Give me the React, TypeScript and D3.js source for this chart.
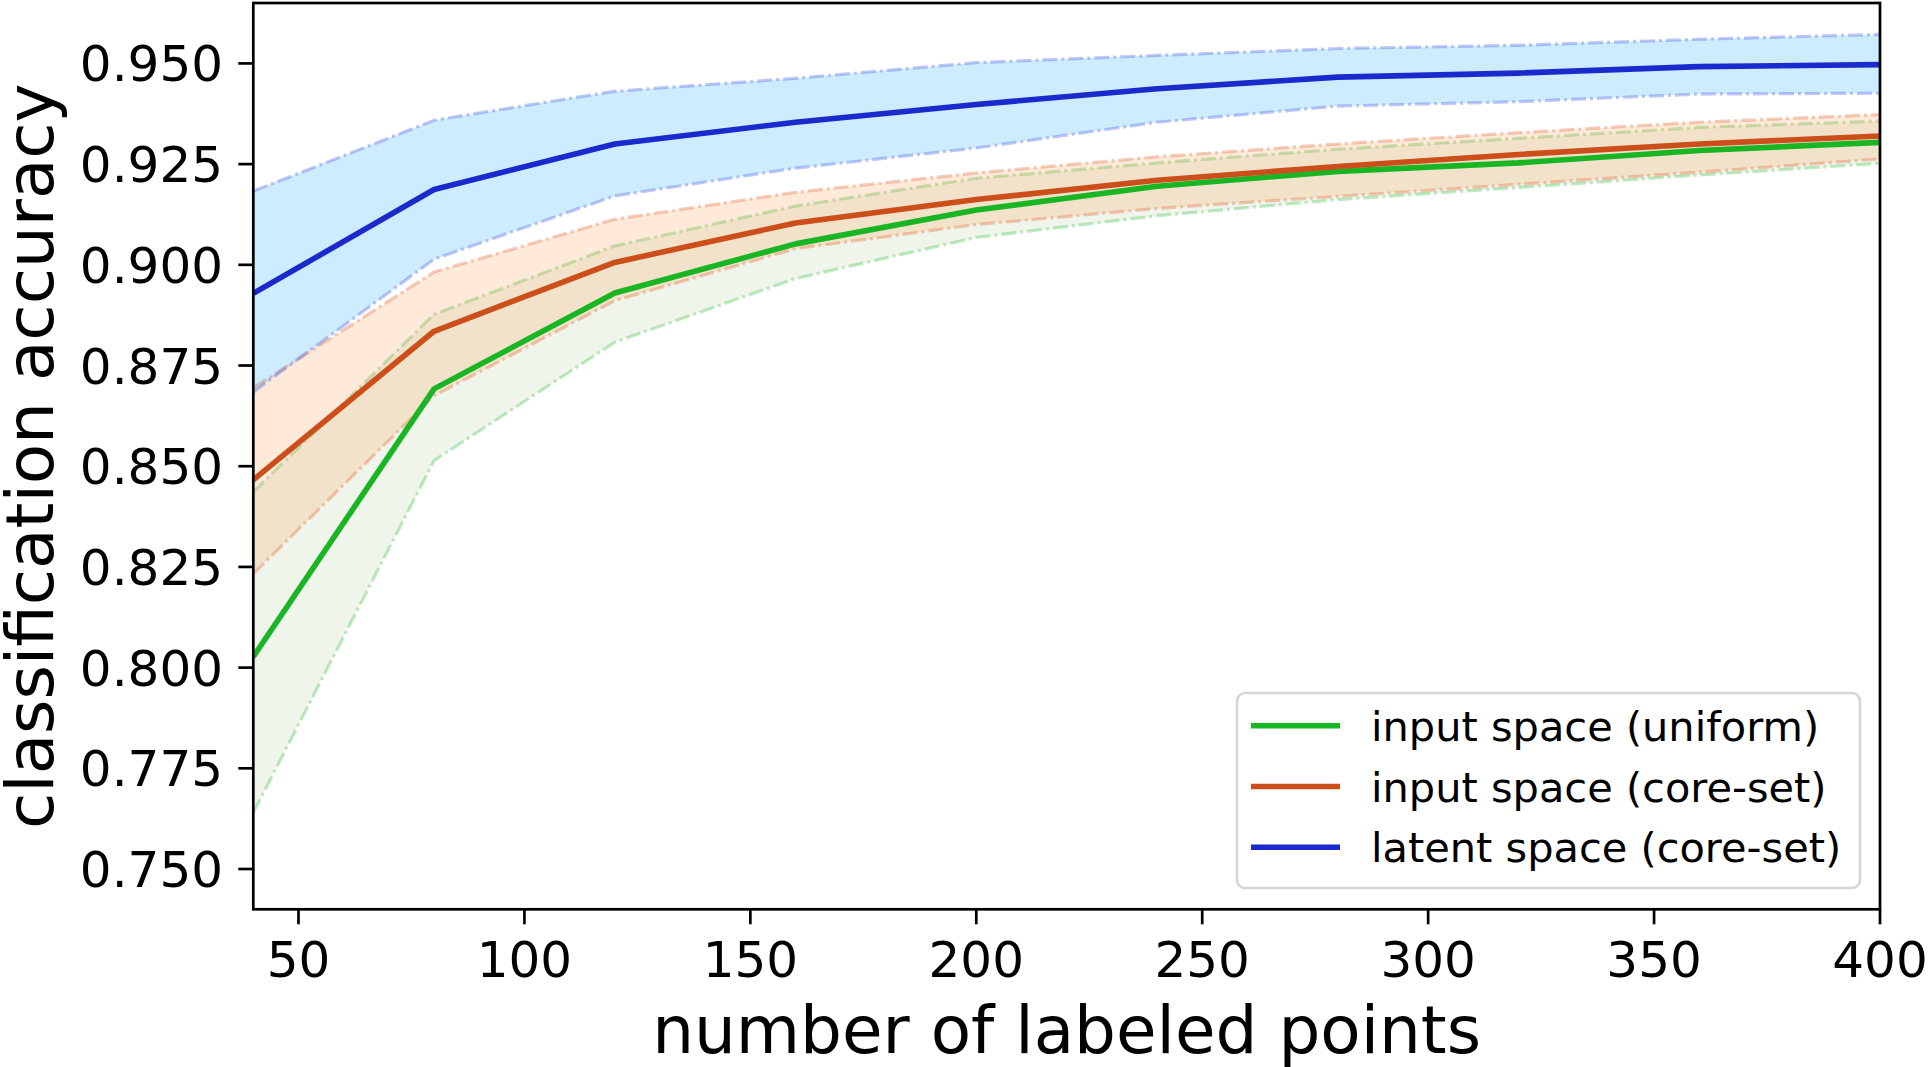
import React, { useEffect, useRef } from 'react';
import * as d3 from 'd3';

const labeledPoints = [40, 80, 120, 160, 200, 240, 280, 320, 360, 400];

const uniformMean = [0.8027, 0.8692, 0.8930, 0.9052, 0.9136, 0.9195, 0.9232, 0.9253, 0.9284, 0.9304];
const uniformUpper = [0.8436, 0.8877, 0.9047, 0.9146, 0.9215, 0.9253, 0.9287, 0.9314, 0.9341, 0.9357];
const uniformLower = [0.7640, 0.8514, 0.8808, 0.8966, 0.9068, 0.9122, 0.9162, 0.9192, 0.9223, 0.9252];

const coreMean = [0.8466, 0.8835, 0.9006, 0.9104, 0.9162, 0.9210, 0.9244, 0.9274, 0.9300, 0.9320];
const coreUpper = [0.8695, 0.8982, 0.9113, 0.9180, 0.9228, 0.9268, 0.9300, 0.9328, 0.9354, 0.9373];
const coreLower = [0.8233, 0.8675, 0.8911, 0.9040, 0.9100, 0.9140, 0.9170, 0.9200, 0.9230, 0.9263];

const latentMean = [0.8929, 0.9187, 0.9300, 0.9354, 0.9398, 0.9437, 0.9466, 0.9476, 0.9492, 0.9497];
const latentUpper = [0.9183, 0.9359, 0.9431, 0.9463, 0.9502, 0.9520, 0.9537, 0.9545, 0.9560, 0.9572];
const latentLower = [0.8684, 0.9014, 0.9171, 0.9240, 0.9290, 0.9354, 0.9394, 0.9405, 0.9424, 0.9426];

const seriesNames = ['input space (uniform)', 'input space (core-set)', 'latent space (core-set)'];
const xTicks = [50, 100, 150, 200, 250, 300, 350, 400];
const yTicks = [0.75, 0.775, 0.8, 0.825, 0.85, 0.875, 0.9, 0.925, 0.95];

export default function App() {
  const svgRef = useRef<SVGSVGElement>(null);

  useEffect(() => {
    if (!svgRef.current) return;
    const svg = d3.select(svgRef.current);
    svg.selectAll('*').remove();

    const width = 1928;
    const height = 1067;
    const left = 253.3, right = 1880, top = 3, bottom = 909.3;
    const font = 'DejaVu Sans, sans-serif';

    const x = d3.scaleLinear().domain([40, 400]).range([left, right]);
    const y = d3.scaleLinear().domain([0.74, 0.965]).range([bottom, top]);

    svg.append('rect').attr('width', width).attr('height', height).attr('fill', 'white');

    svg.append('defs').append('clipPath').attr('id', 'plot-clip')
      .append('rect').attr('x', left).attr('y', top).attr('width', right - left).attr('height', bottom - top);

    const series = [
      { name: seriesNames[0], mean: uniformMean, upper: uniformUpper, lower: uniformLower,
        color: '#19b525', fill: '#6aa03a', fillOpacity: 0.1, edge: '#19b525', edgeOpacity: 0.28 },
      { name: seriesNames[1], mean: coreMean, upper: coreUpper, lower: coreLower,
        color: '#cc4f1b', fill: '#ff9848', fillOpacity: 0.2, edge: '#e0602a', edgeOpacity: 0.32 },
      { name: seriesNames[2], mean: latentMean, upper: latentUpper, lower: latentLower,
        color: '#1b2acc', fill: '#089fff', fillOpacity: 0.2, edge: '#3545e0', edgeOpacity: 0.3 },
    ];

    const plot = svg.append('g').attr('clip-path', 'url(#plot-clip)');

    const area = d3.area<number>()
      .x((_, i) => x(labeledPoints[i]));
    const line = d3.line<number>()
      .x((_, i) => x(labeledPoints[i]))
      .y(d => y(d));

    // bands with dash-dot edges
    series.forEach(s => {
      plot.append('path')
        .attr('d', area.y0((_, i) => y(s.lower[i])).y1(d => y(d))(s.upper))
        .attr('fill', s.fill)
        .attr('fill-opacity', s.fillOpacity);
      [s.upper, s.lower].forEach(b => {
        plot.append('path')
          .attr('d', line(b))
          .attr('fill', 'none')
          .attr('stroke', s.edge)
          .attr('stroke-opacity', s.edgeOpacity)
          .attr('stroke-width', 3.2)
          .attr('stroke-dasharray', '15,4,3,4');
      });
    });

    // mean lines
    series.forEach(s => {
      plot.append('path')
        .attr('d', line(s.mean))
        .attr('fill', 'none')
        .attr('stroke', s.color)
        .attr('stroke-width', 5.6)
        .attr('stroke-linejoin', 'round');
    });

    // ticks
    const tickLen = 15;
    xTicks.forEach(t => {
      svg.append('line').attr('x1', x(t)).attr('x2', x(t)).attr('y1', bottom).attr('y2', bottom + tickLen)
        .attr('stroke', 'black').attr('stroke-width', 2.7);
      svg.append('text').attr('x', x(t)).attr('y', 976.5).attr('text-anchor', 'middle')
        .attr('font-family', font).attr('font-size', 50).attr('fill', 'black').text(String(t));
    });
    yTicks.forEach(t => {
      svg.append('line').attr('x1', left - tickLen).attr('x2', left).attr('y1', y(t)).attr('y2', y(t))
        .attr('stroke', 'black').attr('stroke-width', 2.7);
      svg.append('text').attr('x', 223).attr('y', y(t) + 18).attr('text-anchor', 'end')
        .attr('font-family', font).attr('font-size', 50).attr('fill', 'black').text(d3.format('.3f')(t));
    });

    // spines
    svg.append('rect').attr('x', left).attr('y', top).attr('width', right - left).attr('height', bottom - top)
      .attr('fill', 'none').attr('stroke', 'black').attr('stroke-width', 2.7);

    // axis labels
    svg.append('text').attr('x', (left + right) / 2).attr('y', 1053).attr('text-anchor', 'middle')
      .attr('font-family', font).attr('font-size', 66).attr('fill', 'black').text('number of labeled points');
    svg.append('text').attr('transform', `translate(53,${(top + bottom) / 2}) rotate(-90)`)
      .attr('text-anchor', 'middle')
      .attr('font-family', font).attr('font-size', 66).attr('fill', 'black').text('classification accuracy');

    // legend
    const lg = svg.append('g');
    lg.append('rect').attr('x', 1237).attr('y', 693).attr('width', 623).attr('height', 195).attr('rx', 8)
      .attr('fill', 'white').attr('fill-opacity', 0.8).attr('stroke', '#d6d6d6').attr('stroke-width', 2.7);
    series.forEach((s, i) => {
      const ry = 725.7 + i * 60.8;
      lg.append('line').attr('x1', 1251).attr('x2', 1340).attr('y1', ry).attr('y2', ry)
        .attr('stroke', s.color).attr('stroke-width', 5.6);
      lg.append('text').attr('x', 1371).attr('y', ry + 15).attr('font-family', font).attr('font-size', 41.5)
        .attr('fill', 'black').text(s.name);
    });
  }, []);

  return (
    <svg ref={svgRef} width={1928} height={1067} viewBox="0 0 1928 1067"
      style={{ position: 'absolute', left: 0, top: 0, display: 'block' }}></svg>
  );
}
